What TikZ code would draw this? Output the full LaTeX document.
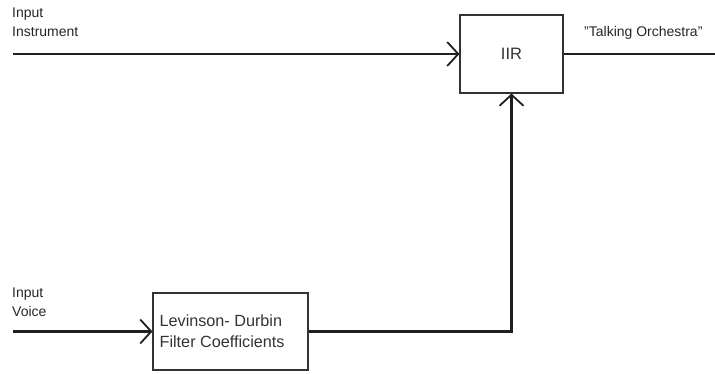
\documentclass[tikz,border=0pt]{standalone}
\usepackage{fontspec}
\setmainfont{Liberation Sans}
\usetikzlibrary{arrows.meta}
\begin{document}
\begin{tikzpicture}[x=1pt,y=-1pt,
  block/.style={draw=black!80,line width=1.1pt,inner sep=0pt},
  signal/.style={draw=black!88,line width=2.2pt},
  arrowtip/.style={-{Straight Barb[length=11pt,width=24pt,line width=1.8pt]}},
  label/.style={inner sep=0pt,align=left,anchor=north west,
    font=\fontsize{14}{19}\selectfont,text=black!85}]
\useasboundingbox (0,0) rectangle (715,374);
% processing blocks
\node[block,minimum width=103pt,minimum height=78pt,
  font=\fontsize{16.5}{19}\selectfont,text=black!80] (iir) at (511.5,54) {IIR};
\node[block,minimum width=155pt,minimum height=77pt] (lev) at (230.5,331.5) {};
\node[inner sep=0pt,anchor=west,align=left,text=black!80,
  font=\fontsize{16.2}{21}\selectfont] (levtxt) at ([xshift=7pt]lev.west)
  {Levinson- Durbin\\Filter Coefficients};
% signal end points
\coordinate (inst) at (13,54);
\coordinate (voice) at (13,331.5);
\coordinate (out) at (715,54);
% signal labels
\node[label] (linst) at (12,8) {Input\\Instrument};
\node[label] (lvoice) at (12,288) {Input\\Voice};
\node[label] (lout) at (584,26) {\char"22 Talking Orchestra\char"22};
% connections
\draw[signal,arrowtip] (inst) -- (iir.west);
\draw[signal,arrowtip] (voice) -- (lev.west);
\draw[signal,arrowtip] (lev.east) -| (iir.south);
\draw[signal] (iir.east) -- (out);
\end{tikzpicture}
\end{document}
